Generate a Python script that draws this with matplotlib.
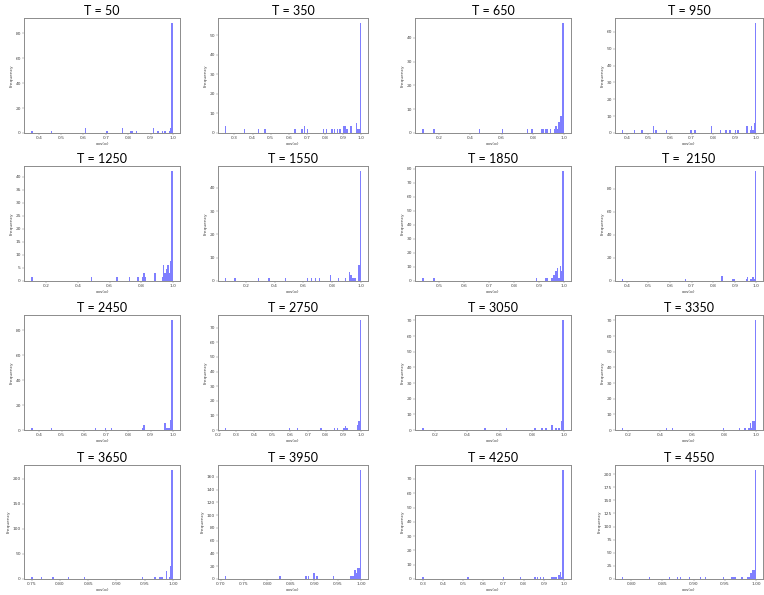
import matplotlib.pyplot as plt
from matplotlib.ticker import MaxNLocator

# values: bar position (cos) and bar height (frequency)
titles = ['T = 50', 'T = 350', 'T = 650', 'T = 950',
          'T = 1250', 'T = 1550', 'T = 1850', 'T =  2150',
          'T = 2450', 'T = 2750', 'T = 3050', 'T = 3350',
          'T = 3650', 'T = 3950', 'T = 4250', 'T = 4550']

cos_t50 = [0.366, 0.461, 0.613, 0.703, 0.775, 0.815, 0.822, 0.839, 0.917, 0.934, 0.951, 0.968, 0.985, 0.991, 1.0]
cnt_t50 = [2, 2, 4, 2, 4, 2, 2, 2, 4, 2, 2, 2, 2, 4, 88]

cos_t350 = [0.247, 0.353, 0.429, 0.467, 0.636, 0.676, 0.685, 0.703, 0.79, 0.808, 0.837,
            0.855, 0.866, 0.884, 0.903, 0.912, 0.921, 0.941, 0.97, 0.979, 0.99, 1.0]
cnt_t350 = [3.5, 1.8, 1.8, 1.8, 1.8, 1.8, 3.5, 1.8, 1.8, 1.8, 1.8,
            1.8, 1.8, 1.8, 3.5, 3.5, 1.8, 3.5, 5.3, 1.8, 1.8, 56]

cos_t650 = [0.09, 0.169, 0.456, 0.606, 0.77, 0.794, 0.856, 0.867, 0.887, 0.898, 0.909,
            0.9409, 0.95, 0.9591, 0.9682, 0.9773, 0.9864, 1.0]
cnt_t650 = [1.5, 1.5, 1.5, 1.5, 1.5, 1.5, 1.5, 1.5, 1.5, 1.5, 1.5,
            1.5, 3, 1.5, 4.5, 7, 7, 46]

cos_t950 = [0.376, 0.438, 0.468, 0.474, 0.521, 0.538, 0.585, 0.698, 0.715, 0.794, 0.833,
            0.858, 0.88, 0.906, 0.915, 0.9533, 0.9595, 0.972, 0.9782, 0.9844, 0.9907, 1.0]
cnt_t950 = [2, 2, 2, 2, 4, 2, 2, 2, 2, 4, 2,
            2, 2, 2, 2, 4, 4, 2, 4, 2, 6, 65]

cos_t1250 = [0.105, 0.489, 0.649, 0.729, 0.783, 0.807, 0.818, 0.829, 0.888,
             0.9329, 0.9418, 0.9508, 0.9597, 0.9687, 0.9776, 0.9866, 1.0]
cnt_t1250 = [1.5, 1.5, 1.5, 1.5, 1.5, 1.5, 3, 1.5, 3,
             1.5, 6, 3, 4.5, 6, 3, 7.5, 42]

cos_t1550 = [0.055, 0.128, 0.283, 0.365, 0.473, 0.628, 0.653, 0.687, 0.71, 0.783, 0.788,
             0.842, 0.89, 0.9198, 0.9292, 0.9387, 0.9482, 0.9576, 0.9859, 1.0]
cnt_t1550 = [1.3, 1.3, 1.3, 1.3, 1.3, 1.3, 1.3, 1.3, 1.3, 1.3, 1.3,
             1.3, 1.3, 4, 2.7, 1.3, 1.3, 1.3, 7, 47]

cos_t1850 = [0.432, 0.483, 0.8892, 0.929, 0.9347, 0.9517, 0.9574, 0.9631, 0.9688,
             0.9744, 0.9801, 0.9858, 0.9915, 1.0]
cnt_t1850 = [2, 2, 2, 2, 2, 2, 4.5, 4.5, 7, 9, 2, 11, 7, 78]

cos_t2150 = [0.376, 0.674, 0.841, 0.889, 0.897, 0.9533, 0.9595, 0.972, 0.9782, 0.9844, 0.9907, 1.0]
cnt_t2150 = [1.5, 1.5, 4, 2, 2, 2, 3.5, 2, 2, 3.5, 2, 95]

cos_t2450 = [0.363, 0.458, 0.651, 0.7, 0.725, 0.862, 0.869, 0.965, 0.9714, 0.9778, 0.9841, 0.9905, 1.0]
cnt_t2450 = [1.5, 1.5, 1.5, 1.5, 1.5, 1.5, 4, 6, 1.5, 1.5, 1.5, 8, 88]

cos_t2750 = [0.235, 0.598, 0.648, 0.771, 0.848, 0.868, 0.9017, 0.9093, 0.917, 0.9809, 0.9885, 1.0]
cnt_t2750 = [1.5, 1.5, 1.5, 1.5, 1.5, 1.5, 1.5, 3, 1.5, 3.5, 6.5, 75]

cos_t3050 = [0.118, 0.511, 0.643, 0.821, 0.866, 0.889, 0.921, 0.955, 0.966, 0.989, 1.0]
cnt_t3050 = [1, 1, 1, 1, 1, 1, 3, 1, 1, 6, 70]

cos_t3350 = [0.16, 0.443, 0.475, 0.793, 0.898, 0.929, 0.9538, 0.9622, 0.9706, 0.979, 0.9874, 1.0]
cnt_t3350 = [1.5, 1.5, 1.5, 1.5, 1.5, 1.5, 1.5, 4.5, 1.5, 6, 6, 70]

cos_t3650 = [0.749, 0.768, 0.789, 0.816, 0.843, 0.945, 0.9687, 0.9762, 0.9787, 0.9812,
             0.9887, 0.9937, 0.9962, 1.0]
cnt_t3650 = [4, 4, 4, 4, 4, 4, 4, 4, 4, 4, 15, 4, 26, 217]

cos_t3950 = [0.709, 0.826, 0.883, 0.888, 0.899, 0.906, 0.94, 0.9781, 0.981, 0.9839,
             0.9868, 0.9897, 0.9926, 0.9955, 1.0]
cnt_t3950 = [4.5, 4.5, 4.5, 4.5, 9, 4.5, 4.5, 4.5, 4.5, 4.5, 13.5, 9, 18, 18, 170]

cos_t4250 = [0.297, 0.528, 0.699, 0.786, 0.857, 0.867, 0.886, 0.895, 0.939, 0.947,
             0.956, 0.964, 0.973, 0.981, 0.99, 1.0]
cnt_t4250 = [1.5, 1.5, 1.5, 1.5, 1.5, 1.5, 1.5, 1.5, 1.5, 1.5, 1.5, 1.5, 3, 5, 1.5, 76]

cos_t4550 = [0.785, 0.829, 0.862, 0.875, 0.878, 0.894, 0.911, 0.919, 0.947, 0.9602, 0.9623,
             0.9645, 0.9666, 0.977, 0.986, 0.9882, 0.9903, 0.9925, 0.9946, 0.9968, 1.0]
cnt_t4550 = [4, 4, 4, 4, 4, 4, 4, 4, 4, 4, 4,
             4, 4, 4, 4, 4, 12, 12, 17, 17, 207]

panels = [
    (cos_t50, cnt_t50), (cos_t350, cnt_t350), (cos_t650, cnt_t650), (cos_t950, cnt_t950),
    (cos_t1250, cnt_t1250), (cos_t1550, cnt_t1550), (cos_t1850, cnt_t1850), (cos_t2150, cnt_t2150),
    (cos_t2450, cnt_t2450), (cos_t2750, cnt_t2750), (cos_t3050, cnt_t3050), (cos_t3350, cnt_t3350),
    (cos_t3650, cnt_t3650), (cos_t3950, cnt_t3950), (cos_t4250, cnt_t4250), (cos_t4550, cnt_t4550),
]

W, H = 764, 595
fig = plt.figure(figsize=(W / 100, H / 100), dpi=100)

# axes frames in pixels
lefts = [24, 218, 415, 615]
rights = [180, 368, 571, 763]
tops = [18, 166, 315, 465]
bottoms = [133, 281, 430, 579]

small = 3.2
for i, (xs, cnt) in enumerate(panels):
    r, c = divmod(i, 4)
    ax = fig.add_axes([lefts[c] / W, 1 - bottoms[r] / H,
                       (rights[c] - lefts[c]) / W, (bottoms[r] - tops[r]) / H])
    ax.hist(xs, bins=100, weights=cnt, color='blue', alpha=0.5)
    ax.xaxis.set_major_locator(MaxNLocator(9, steps=[1, 2, 2.5, 5, 10]))
    ax.yaxis.set_major_locator(MaxNLocator(9, steps=[1, 2, 2.5, 5, 10]))
    ax.tick_params(labelsize=small, length=1.2, width=0.3, pad=1,
                   color='#777777', labelcolor='#444444')
    for s in ax.spines.values():
        s.set_color('#8c8c8c')
        s.set_linewidth(0.7)
    ax.set_xlabel('cos(α)', fontsize=small, labelpad=1.2, color='#444444')
    ax.set_ylabel('Frequency', fontsize=small, labelpad=1.2, color='#444444')
    ax.set_title(titles[i], fontsize=9, family='Lato', pad=2)

fig.savefig('out.png', dpi=100)
